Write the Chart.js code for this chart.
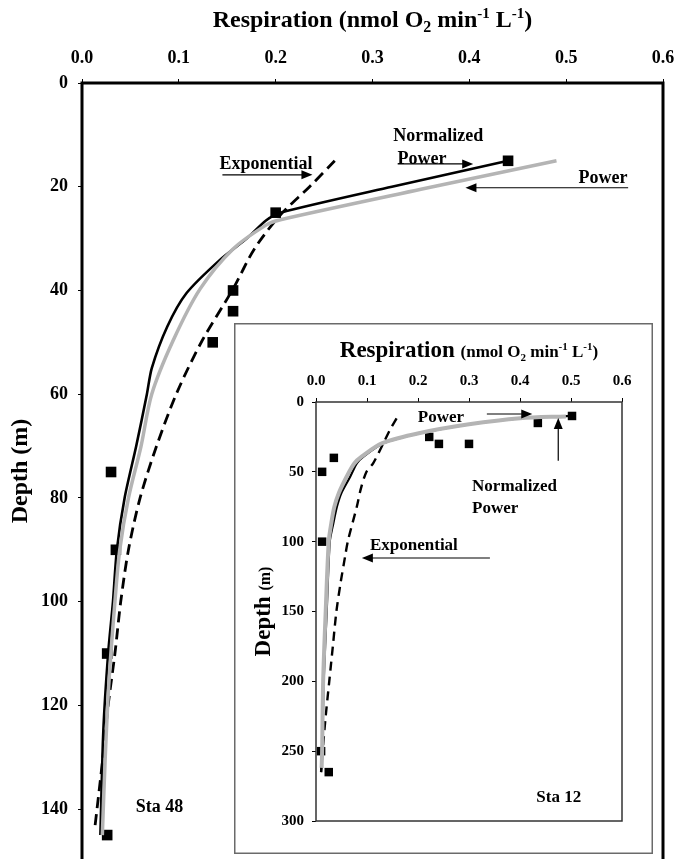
<!DOCTYPE html>
<html>
<head>
<meta charset="utf-8">
<script src="https://cdn.jsdelivr.net/npm/chart.js@4.4.1/dist/chart.umd.min.js"></script>
<style>
  html, body { margin: 0; padding: 0; background: #fff; overflow: hidden; width: 676px; height: 859px; }
  #main { position: absolute; left: 0; top: 0; }
  #inset { position: absolute; left: 234px; top: 323px; }
</style>
</head>
<body>
<canvas id="main" width="676" height="870"></canvas>
<canvas id="inset" width="419" height="531"></canvas>
<script>
// Sta 48 (main panel) - depth in m, respiration in nmol O2 min-1 L-1
const sta48ObsResp = [0.44, 0.20, 0.156, 0.156, 0.135, 0.030, 0.035, 0.026, 0.026];
const sta48ObsDepth = [15, 25, 40, 44, 50, 75, 90, 110, 145];

const sta48NormResp = [0.44, 0.32, 0.205, 0.19, 0.17, 0.143, 0.108, 0.088, 0.072, 0.067, 0.056, 0.044, 0.036, 0.032, 0.027, 0.022, 0.019];
const sta48NormDepth = [15, 20, 25, 26.5, 30, 34, 40.5, 47, 55, 60, 70, 80, 90, 100, 110, 125, 145];

const sta48PowResp = [0.49, 0.35, 0.204, 0.19, 0.156, 0.122, 0.094, 0.072, 0.061, 0.048, 0.039, 0.034, 0.028, 0.024, 0.021];
const sta48PowDepth = [15, 20.5, 26.4, 27.4, 32, 39.7, 49.7, 60, 70, 80, 90, 100, 115, 130, 145];

const sta48ExpResp = [0.261, 0.235, 0.205, 0.178, 0.156, 0.124, 0.098, 0.077, 0.060, 0.048, 0.040, 0.034, 0.027, 0.021, 0.013];
const sta48ExpDepth = [15, 20, 25.4, 32, 39.7, 49.7, 59.7, 70, 80, 90, 100, 110, 120, 131, 144];

// Sta 12 (inset)
const sta12ObsResp = [0.502, 0.435, 0.222, 0.241, 0.300, 0.035, 0.012, 0.012, 0.010, 0.025];
const sta12ObsDepth = [10, 15, 25, 30, 30, 40, 50, 100, 250, 265];

const sta12NormResp = [0.50, 0.465, 0.40, 0.30, 0.204, 0.132, 0.093, 0.080, 0.067, 0.050, 0.041, 0.034, 0.027, 0.021, 0.015, 0.012, 0.010];
const sta12NormDepth = [10, 10.5, 11.7, 16, 22.4, 29.6, 39.1, 43.9, 53.5, 65, 75, 86.8, 100, 150, 200, 250, 265];

const sta12PowResp = [0.49, 0.40, 0.30, 0.204, 0.13, 0.09, 0.075, 0.060, 0.045, 0.036, 0.030, 0.025, 0.019, 0.014, 0.012, 0.011];
const sta12PowDepth = [10.3, 11.6, 16, 22.2, 29.5, 39, 44, 53.5, 65, 75, 86.8, 100, 150, 200, 250, 262];

const sta12ExpResp = [0.158, 0.145, 0.132, 0.112, 0.099, 0.088, 0.080, 0.063, 0.057, 0.048, 0.040, 0.033, 0.026, 0.019, 0.013, 0.010];
const sta12ExpDepth = [11.7, 20, 29.6, 43.9, 49.9, 62, 75, 98.8, 110.7, 130, 150, 175, 200, 225, 250, 265];

// tick setup
const respTicks = [0, 0.1, 0.2, 0.3, 0.4, 0.5, 0.6];
const sta48DepthStep = 20, sta48DepthMax = 150;
const sta12DepthStep = 50, sta12DepthMax = 300;

// callouts, in data units
const sta48Labels = [
  { t: "Exponential", x: 0.190, y: 15.6 },
  { t: "Normalized", x: 0.368, y: 10.2 },
  { t: "Power", x: 0.351, y: 14.8 },
  { t: "Power", x: 0.538, y: 18.3 },
  { t: "Sta 48", x: 0.080, y: 139.7 },
];
const sta48Arrows = [
  [0.145, 17.7, 0.238, 17.7],
  [0.326, 15.6, 0.404, 15.6],
  [0.564, 20.2, 0.396, 20.2],
];
const sta12Labels = [
  { t: "Power", x: 0.245, y: 11.5 },
  { t: "Normalized", x: 0.306, y: 60.8, align: "left" },
  { t: "Power", x: 0.306, y: 76.6, align: "left" },
  { t: "Exponential", x: 0.192, y: 103 },
  { t: "Sta 12", x: 0.476, y: 283.5 },
];
const sta12Arrows = [
  [0.335, 8.6, 0.424, 8.6],
  [0.475, 42, 0.475, 11.5],
  [0.341, 111.7, 0.09, 111.7],
];

const SERIF = '"Liberation Serif", "Times New Roman", serif';
Chart.defaults.font.family = SERIF;
Chart.defaults.font.weight = "bold";
Chart.defaults.color = "#000";

const pts = (xs, ys) => xs.map((x, i) => ({ x, y: ys[i] }));

function rich(ctx, parts, x, y, rot) {
  ctx.save();
  ctx.translate(x, y);
  if (rot) ctx.rotate(rot);
  let w = 0;
  parts.forEach((p) => {
    ctx.font = `bold ${p.s}px ${SERIF}`;
    p.w = ctx.measureText(p.t).width;
    w += p.w;
  });
  let cx = -w / 2;
  ctx.fillStyle = "#000";
  ctx.textAlign = "left";
  ctx.textBaseline = "alphabetic";
  parts.forEach((p) => {
    ctx.font = `bold ${p.s}px ${SERIF}`;
    ctx.fillText(p.t, cx, p.dy || 0);
    cx += p.w;
  });
  ctx.restore();
}

function arrow(ctx, x1, y1, x2, y2) {
  const a = Math.atan2(y2 - y1, x2 - x1);
  ctx.save();
  ctx.strokeStyle = "#000";
  ctx.fillStyle = "#000";
  ctx.lineWidth = 1.2;
  ctx.beginPath();
  ctx.moveTo(x1, y1);
  ctx.lineTo(x2 - 8 * Math.cos(a), y2 - 8 * Math.sin(a));
  ctx.stroke();
  ctx.translate(x2, y2);
  ctx.rotate(a);
  ctx.beginPath();
  ctx.moveTo(0, 0);
  ctx.lineTo(-11, -4.5);
  ctx.lineTo(-11, 4.5);
  ctx.closePath();
  ctx.fill();
  ctx.restore();
}

function decor(opts) {
  return {
    id: "decor",
    beforeDraw(chart) {
      const ctx = chart.ctx;
      ctx.save();
      ctx.fillStyle = "#fff";
      ctx.fillRect(0, 0, chart.width, chart.height);
      if (opts.box) {
        ctx.strokeStyle = "#6a6a6a";
        ctx.lineWidth = 1.5;
        ctx.strokeRect(0.75, 0.75, chart.width - 1.5, chart.height - 1.5);
      }
      ctx.restore();
    },
    afterDraw(chart) {
      const { ctx, chartArea: a, scales } = chart;
      ctx.save();
      ctx.strokeStyle = opts.frameColor;
      ctx.lineWidth = opts.frame;
      ctx.strokeRect(a.left, a.top, a.right - a.left, a.bottom - a.top);
      const cx = (a.left + a.right) / 2;
      const cy = (a.top + a.bottom) / 2;
      rich(ctx, opts.xTitle, cx, opts.xTitleY);
      rich(ctx, opts.yTitle, opts.yTitleX, opts.yTitleY || cy, -Math.PI / 2);
      ctx.font = `bold ${opts.noteSize}px ${SERIF}`;
      ctx.fillStyle = "#000";
      ctx.textBaseline = "middle";
      opts.labels.forEach((l) => {
        ctx.textAlign = l.align || "center";
        ctx.fillText(l.t, scales.x.getPixelForValue(l.x), scales.y.getPixelForValue(l.y));
      });
      opts.arrows.forEach(([x1, y1, x2, y2]) => {
        arrow(ctx,
          scales.x.getPixelForValue(x1), scales.y.getPixelForValue(y1),
          scales.x.getPixelForValue(x2), scales.y.getPixelForValue(y2));
      });
      ctx.restore();
    },
  };
}

function makeChart(id, cfg) {
  return new Chart(document.getElementById(id), {
    type: "scatter",
    data: {
      datasets: [
        { data: pts(cfg.pow[0], cfg.pow[1]), showLine: true, borderColor: "#b4b4b4", borderWidth: cfg.grayW, pointRadius: 0, tension: 0.3 },
        { data: pts(cfg.exp[0], cfg.exp[1]), showLine: true, borderColor: "#000", borderWidth: cfg.dashW, borderDash: cfg.dash, pointRadius: 0, tension: 0.3 },
        { data: pts(cfg.norm[0], cfg.norm[1]), showLine: true, borderColor: "#000", borderWidth: cfg.lineW, pointRadius: 0, tension: 0.25 },
        { data: pts(cfg.obs[0], cfg.obs[1]), showLine: false, pointStyle: "rect", pointRadius: cfg.ptR, backgroundColor: "#000", borderColor: "#000", borderWidth: 0 },
      ],
    },
    options: {
      responsive: false,
      animation: false,
      devicePixelRatio: 1,
      layout: { padding: cfg.pad },
      plugins: { legend: { display: false }, tooltip: { enabled: false } },
      scales: {
        x: {
          type: "linear",
          position: "top",
          min: 0,
          max: 0.6,
          afterBuildTicks: (s) => { s.ticks = respTicks.map((v) => ({ value: v })); },
          afterFit: (s) => { s.height = cfg.xH; s.paddingLeft = 0; s.paddingRight = 0; },
          ticks: { font: { size: cfg.tickSize }, padding: cfg.tickPad, callback: (v) => Number(v).toFixed(1) },
          grid: { drawOnChartArea: false, tickLength: 4, color: "#000" },
          border: { display: false },
        },
        y: {
          type: "linear",
          reverse: true,
          min: 0,
          max: cfg.yMax,
          afterFit: (s) => { s.width = cfg.yW; s.paddingTop = 0; s.paddingBottom = 0; },
          ticks: { stepSize: cfg.yStep, includeBounds: false, font: { size: cfg.tickSize }, padding: cfg.tickPad },
          grid: { drawOnChartArea: false, tickLength: 4, color: "#000" },
          border: { display: false },
        },
      },
    },
    plugins: [decor(cfg.decor)],
  });
}

makeChart("main", {
  obs: [sta48ObsResp, sta48ObsDepth],
  norm: [sta48NormResp, sta48NormDepth],
  pow: [sta48PowResp, sta48PowDepth],
  exp: [sta48ExpResp, sta48ExpDepth],
  grayW: 3.5, lineW: 2.6, dashW: 2.8, dash: [11, 6], ptR: 7.5,
  pad: { left: 0, top: 0, right: 13, bottom: 9 },
  xH: 83, yW: 82, tickSize: 18, tickPad: 10,
  yMax: sta48DepthMax, yStep: sta48DepthStep,
  decor: {
    box: false, frame: 3, frameColor: "#000", noteSize: 18,
    xTitle: [
      { t: "Respiration (nmol O", s: 24 }, { t: "2", s: 16, dy: 5 }, { t: " min", s: 24 },
      { t: "-1", s: 15, dy: -9 }, { t: " L", s: 24 }, { t: "-1", s: 15, dy: -9 }, { t: ")", s: 24 },
    ],
    xTitleY: 27,
    yTitle: [{ t: "Depth (m)", s: 24 }],
    yTitleX: 27,
    yTitleY: 471,
    labels: sta48Labels, arrows: sta48Arrows,
  },
});

makeChart("inset", {
  obs: [sta12ObsResp, sta12ObsDepth],
  norm: [sta12NormResp, sta12NormDepth],
  pow: [sta12PowResp, sta12PowDepth],
  exp: [sta12ExpResp, sta12ExpDepth],
  grayW: 4, lineW: 2.2, dashW: 2.4, dash: [9, 6], ptR: 6,
  pad: { left: 0, top: 0, right: 31, bottom: 33 },
  xH: 79, yW: 82, tickSize: 15, tickPad: 8,
  yMax: sta12DepthMax, yStep: sta12DepthStep,
  decor: {
    box: true, frame: 1.5, frameColor: "#333", noteSize: 17,
    xTitle: [
      { t: "Respiration ", s: 23 }, { t: "(nmol O", s: 17 }, { t: "2", s: 11, dy: 4 }, { t: " min", s: 17 },
      { t: "-1", s: 11, dy: -7 }, { t: " L", s: 17 }, { t: "-1", s: 11, dy: -7 }, { t: ")", s: 17 },
    ],
    xTitleY: 34,
    yTitle: [{ t: "Depth ", s: 23 }, { t: "(m)", s: 16 }],
    yTitleX: 36,
    labels: sta12Labels, arrows: sta12Arrows,
  },
});
</script>
</body>
</html>
